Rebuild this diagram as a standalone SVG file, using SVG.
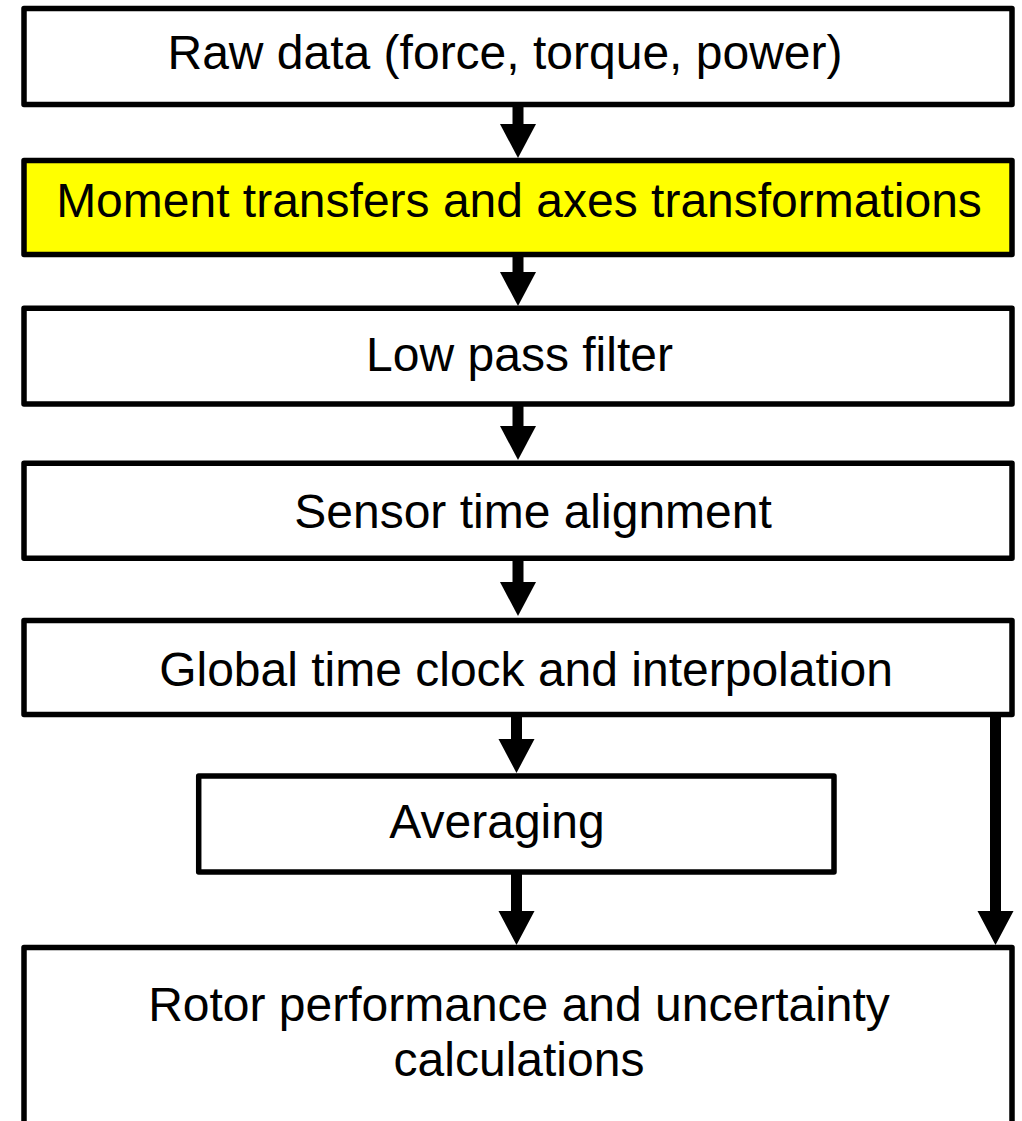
<svg xmlns="http://www.w3.org/2000/svg" width="1022" height="1121" viewBox="0 0 1022 1121">
  <style>
    .box { fill: #ffffff; stroke: #000000; stroke-width: 5.5; stroke-linejoin: round; }
    .hl { fill: #ffff00; }
    .lbl { font-family: "Liberation Sans", Arial, sans-serif; font-size: 48px; fill: #000000; text-anchor: middle; }
    .conn { stroke: #000000; stroke-width: 11; fill: none; marker-end: url(#ah); }
  </style>
  <defs>
    <marker id="ah" markerUnits="userSpaceOnUse" markerWidth="34" markerHeight="36" refX="0" refY="18" orient="auto" overflow="visible">
      <path d="M0,0 L34,18 L0,36 Z" fill="#000000"/>
    </marker>
  </defs>
  <rect width="1022" height="1121" fill="#ffffff"/>

  <g id="connectors">
    <line class="conn" x1="518" y1="106" x2="518" y2="124"/>
    <line class="conn" x1="518" y1="256" x2="518" y2="272"/>
    <line class="conn" x1="518" y1="405" x2="518" y2="426"/>
    <line class="conn" x1="518" y1="560" x2="518" y2="582"/>
    <line class="conn" x1="516.5" y1="716" x2="516.5" y2="739"/>
    <line class="conn" x1="516.5" y1="874" x2="516.5" y2="911"/>
    <line class="conn" x1="995.5" y1="712" x2="995.5" y2="911"/>
  </g>

  <g id="node-raw">
    <rect class="box" x="24" y="8.5" width="988" height="96"/>
    <text class="lbl" x="505" y="69">Raw data (force, torque, power)</text>
  </g>
  <g id="node-moment">
    <rect class="box hl" x="24" y="160.5" width="988" height="94"/>
    <text class="lbl" x="519" y="216.5">Moment transfers and axes transformations</text>
  </g>
  <g id="node-lowpass">
    <rect class="box" x="24" y="308.3" width="988" height="95.7"/>
    <text class="lbl" x="519.5" y="371">Low pass filter</text>
  </g>
  <g id="node-sensor">
    <rect class="box" x="24" y="463.3" width="988" height="95"/>
    <text class="lbl" x="533" y="528">Sensor time alignment</text>
  </g>
  <g id="node-global">
    <rect class="box" x="24" y="620.5" width="988" height="94"/>
    <text class="lbl" x="526" y="686">Global time clock and interpolation</text>
  </g>
  <g id="node-averaging">
    <rect class="box" x="198.7" y="776" width="635.3" height="96"/>
    <text class="lbl" x="497" y="838">Averaging</text>
  </g>
  <g id="node-rotor">
    <rect class="box" x="24" y="947.5" width="988" height="200"/>
    <text class="lbl" x="519" y="1021">Rotor performance and uncertainty</text>
    <text class="lbl" x="519" y="1076">calculations</text>
  </g>
</svg>
